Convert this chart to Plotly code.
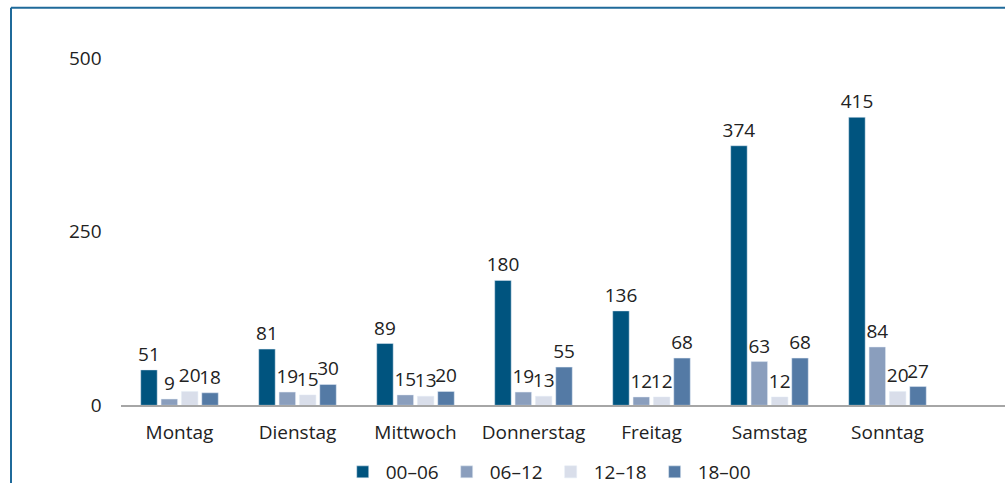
import plotly.graph_objects as go

days = ["Montag", "Dienstag", "Mittwoch", "Donnerstag", "Freitag", "Samstag", "Sonntag"]
s_00_06 = [51, 81, 89, 180, 136, 374, 415]
s_06_12 = [9, 19, 15, 19, 12, 63, 84]
s_12_18 = [20, 15, 13, 13, 12, 12, 20]
s_18_00 = [18, 30, 20, 55, 68, 68, 27]
series_names = ["00–06", "06–12", "12–18", "18–00"]
colors = ["#00547F", "#8A9EBD", "#D9DEEA", "#547AA5"]
y_ticks = [0, 250, 500]

W, H = 1005, 491
FONT = "Open Sans"
TXT = "#222222"

fig = go.Figure()
for name, vals, col in zip(series_names, [s_00_06, s_06_12, s_12_18, s_18_00], colors):
    fig.add_trace(go.Bar(
        x=days, y=vals, name=name, marker_color=col,
        text=[str(v) for v in vals], textposition="outside",
        constraintext="none",
        textfont=dict(family=FONT, size=19, color=TXT),
        cliponaxis=False,
    ))

x0 = 120.5 / W
base_y = 412
top_y = 24
fig.update_layout(
    width=W, height=H,
    margin=dict(l=0, r=0, t=0, b=0),
    paper_bgcolor="white", plot_bgcolor="white",
    barmode="group", bargap=0.31, bargroupgap=0.19,
    font=dict(family=FONT, size=19, color=TXT),
    xaxis=dict(
        domain=[x0, 1], range=[-0.5, 6.996], automargin=False,
        showline=True, linecolor="#A6A6A6", linewidth=2,
        ticks="", showgrid=False, tickfont=dict(family=FONT, size=19, color=TXT),
        ticklabelstandoff=9,
    ),
    yaxis=dict(
        domain=[1 - base_y / H, 1 - top_y / H], range=[0, 550], automargin=False,
        tickvals=y_ticks, showgrid=False, showline=False, zeroline=False,
        tickfont=dict(family=FONT, size=19, color=TXT),
        ticklabelstandoff=18,
    ),
    legend=dict(
        orientation="h", x=0.545, xanchor="center", y=1 - 480 / H, yanchor="middle",
        font=dict(family=FONT, size=19, color=TXT), itemwidth=36,
        traceorder="normal",
    ),
    shapes=[
        dict(type="line", xref="paper", yref="paper", x0=11 / W, x1=11 / W, y0=0, y1=1 - 8 / H,
             line=dict(color="#1F6A9A", width=2)),
        dict(type="line", xref="paper", yref="paper", x0=11 / W, x1=1, y0=1 - 8 / H, y1=1 - 8 / H,
             line=dict(color="#1F6A9A", width=2)),
    ],
)

fig.write_html("out.html", config={"displayModeBar": False},
               post_script="document.body.style.margin='0';document.body.style.overflow='hidden';")
